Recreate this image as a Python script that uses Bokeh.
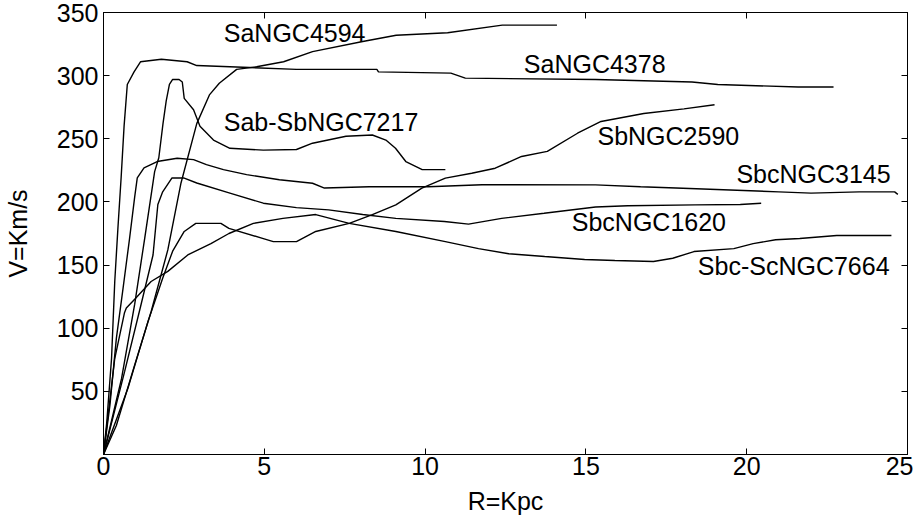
from bokeh.plotting import figure
from bokeh.models import Range1d, LinearAxis, FixedTicker, ColumnDataSource, CustomLabelingPolicy
from bokeh.embed import file_html
from bokeh.resources import INLINE
from bokeh.core.properties import value

# ---- data (R in kpc, V in km/s) ----
r_4594 = [0, 0.4, 0.97, 1.48, 2.0, 2.41, 2.9, 3.3, 3.6, 4.14, 4.76, 5.6, 6.5, 8.06, 9.1, 10.7, 12.4, 14.1]
v_4594 = [0, 23, 71, 113, 162, 215, 262, 285, 294, 305, 307, 311, 319, 327, 332, 334, 340, 340]

r_4378 = [0, 0.1, 0.25, 0.35, 0.45, 0.55, 0.64, 0.74, 0.95, 1.15, 1.8, 2.6, 2.9, 6.0, 8.5, 8.55, 10.8, 11.25, 15.3, 18.3, 19.1, 21.6, 22.7]
v_4378 = [0, 25, 76, 137, 180, 220, 260, 293, 303, 311, 313, 311, 308, 305, 305, 303, 302, 298, 297, 295, 293, 291, 291]

r_7217 = [0, 0.56, 0.97, 1.28, 1.59, 1.72, 1.85, 1.95, 2.05, 2.15, 2.35, 2.45, 2.51, 2.8, 3.0, 3.42, 3.93, 4.97, 6.0, 6.5, 7.54, 8.36, 8.78, 9.08, 9.4, 9.91, 10.63]
v_7217 = [0, 60, 119, 171, 224, 235, 262, 280, 293, 297, 297, 295, 282, 273, 260, 249, 242.5, 241, 241.5, 246.5, 252, 253, 249, 242.5, 232, 225.6, 225.6]

r_2590 = [0, 0.76, 1.38, 1.84, 2.15, 2.51, 2.87, 3.65, 3.9, 4.97, 5.28, 6.0, 6.6, 7.64, 8.36, 9.09, 9.9, 10.63, 11.45, 12.18, 13.0, 13.8, 14.74, 15.47, 16.8, 18.05, 19.0]
v_2590 = [0, 52.5, 105, 139.6, 161, 176.6, 183, 183, 179, 171, 168.6, 168.6, 176.6, 183, 190, 197.7, 211, 218.8, 222.7, 226.7, 236, 240, 254.4, 263.7, 270, 273.7, 277]

r_3145 = [0, 0.2, 0.4, 0.61, 0.81, 0.97, 1.05, 1.26, 1.67, 2.29, 2.8, 3.2, 3.73, 4.45, 5.47, 6.5, 6.87, 8.26, 10.1, 11.77, 15.3, 16.7, 17.8, 21.0, 22.0, 23.5, 24.6, 24.7]
v_3145 = [0, 39, 92, 132, 171, 204, 219, 227, 232, 234.6, 233.5, 229.5, 225.6, 221.6, 217.6, 214.8, 211, 212, 212, 213.6, 213.5, 212, 211, 208, 207, 208, 208, 206]

r_1620 = [0, 0.66, 1.17, 1.54, 1.69, 1.84, 2.13, 2.49, 2.9, 3.93, 4.97, 6.0, 7.0, 8.06, 9.09, 10.6, 11.35, 12.38, 13.7, 15.3, 16.3, 18.4, 19.8, 20.45]
v_1620 = [0, 66, 119, 158, 198, 208, 219, 219, 215, 207, 199, 195.5, 193.7, 190, 187, 184.5, 182.4, 187, 191, 196, 197, 197.7, 198, 199]

r_7664 = [0, 0.35, 0.65, 0.71, 0.97, 1.48, 2.0, 2.62, 3.34, 3.9, 4.66, 5.58, 6.6, 7.64, 9.09, 10.63, 11.66, 12.6, 13.72, 14.96, 15.9, 17.1, 17.7, 18.36, 19.6, 20.2, 20.9, 21.65, 22.8, 24.5]
v_7664 = [0, 76, 112, 116, 123, 137, 145, 158, 167, 175, 183, 187, 190, 183, 176.6, 168.6, 163, 159, 156.8, 154.4, 153.6, 152.8, 155.4, 160.7, 163, 167, 170, 171, 173.4, 173.4]

label_text = ["SaNGC4594", "SaNGC4378", "Sab-SbNGC7217", "SbNGC2590", "SbcNGC3145", "SbcNGC1620", "Sbc-ScNGC7664"]
label_r = [3.74, 13.07, 3.74, 15.36, 19.68, 14.56, 18.48]
label_v = [327, 301.7, 256.5, 244.7, 214.6, 176.6, 142.5]

x_ticks = [0, 5, 10, 15, 20, 25]
y_ticks = [50, 100, 150, 200, 250, 300, 350]

FONT = "Liberation Sans"
FS = "25px"

p = figure(width=913, height=518, output_backend="svg", toolbar_location=None,
           x_range=Range1d(0, 25), y_range=Range1d(0, 350),
           min_border_left=98, min_border_right=6, min_border_top=12, min_border_bottom=64,
           x_axis_label="R=Kpc", y_axis_label="V=Km/s")
p.xgrid.visible = False
p.ygrid.visible = False
p.outline_line_color = "black"
p.outline_line_width = 1
p.background_fill_color = "white"
p.border_fill_color = "white"

def style_axis(ax, ticks, show_labels=True):
    ax.ticker = FixedTicker(ticks=ticks)
    ax.major_tick_in = 6
    ax.major_tick_out = 0
    ax.minor_tick_in = 0
    ax.minor_tick_out = 0
    ax.axis_line_color = "black"
    ax.major_tick_line_color = "black"
    ax.major_label_text_font = FONT
    ax.major_label_text_color = "black"
    if show_labels:
        ax.major_label_text_font_size = FS
    else:
        ax.major_label_policy = CustomLabelingPolicy(code="return []")
        ax.major_label_text_font_size = "1px"
        ax.major_label_standoff = 0

style_axis(p.xaxis[0], x_ticks)
style_axis(p.yaxis[0], y_ticks)
p.xaxis[0].major_label_standoff = 2
p.yaxis[0].major_label_standoff = 5
for ax in (p.xaxis[0], p.yaxis[0]):
    ax.axis_label_text_font = FONT
    ax.axis_label_text_font_size = FS
    ax.axis_label_text_font_style = "normal"
    ax.axis_label_text_color = "black"
p.xaxis[0].axis_label_standoff = 9
p.yaxis[0].axis_label_standoff = 22

top_ax = LinearAxis()
style_axis(top_ax, x_ticks, show_labels=False)
p.add_layout(top_ax, "above")
right_ax = LinearAxis()
style_axis(right_ax, y_ticks, show_labels=False)
p.add_layout(right_ax, "right")

curves = [(r_4594, v_4594), (r_4378, v_4378), (r_7217, v_7217), (r_2590, v_2590),
          (r_3145, v_3145), (r_1620, v_1620), (r_7664, v_7664)]
for r, v in curves:
    p.line(r, v, line_color="black", line_width=1.4)

src = ColumnDataSource(dict(x=label_r, y=label_v, t=label_text))
p.text(x="x", y="y", text="t", source=src, text_font=value(FONT), text_font_size=FS,
       text_color="black", text_align="left", text_baseline="alphabetic", y_offset=-9)

open("out.html", "w").write(file_html(p, INLINE))
